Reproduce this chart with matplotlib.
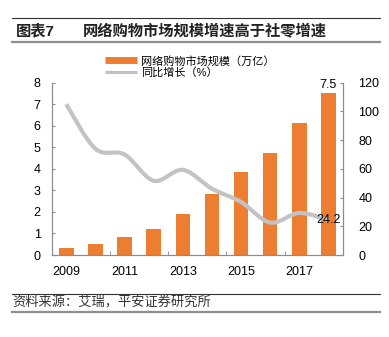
import matplotlib
matplotlib.use("Agg")
import matplotlib.pyplot as plt
from matplotlib.path import Path
from matplotlib.patches import PathPatch
from matplotlib.lines import Line2D
import numpy as np

plt.rcParams['font.family'] = ['Liberation Sans', 'Noto Sans CJK SC', 'DejaVu Sans']

# online shopping market size (trillion yuan) and yoy growth (%)
years = ['2009', '2010', '2011', '2012', '2013', '2014', '2015', '2016', '2017', '2018']
market_size = [0.31, 0.51, 0.82, 1.23, 1.92, 2.84, 3.84, 4.73, 6.14, 7.5]
growth = [105, 74, 70, 51.7, 59.3, 46.2, 36.9, 22.6, 29.3, 24.2]
year_labels = ['2009', '', '2011', '', '2013', '', '2015', '', '2017', '']

orange = '#ED7D31'
grey_line = '#C3C3C3'
spine_col = '#8C8C8C'

fig = plt.figure(figsize=(3.89, 3.37), dpi=100)
ax = fig.add_axes([51.7 / 389, 1 - 255 / 337, (343 - 51.7) / 389, (255 - 82.7) / 337])
ax2 = ax.twinx()

x = np.arange(len(years))
ax.bar(x, market_size, width=0.5, color=orange, zorder=2)
ax.set_xlim(-0.5, len(years) - 0.5)
ax.set_ylim(0, 8)
ax.set_yticks(range(0, 9))
ax2.set_ylim(0, 120)
ax2.set_yticks(range(0, 121, 20))

# x ticks between categories, labels every other year
ax.set_xticks(x)
ax.set_xticklabels(year_labels)
ax.tick_params(axis='x', length=0, pad=8, labelsize=9)
ax.set_xticks(np.arange(-0.5, len(years), 2.0), minor=True)
ax.tick_params(axis='x', which='minor', direction='in', length=3, color=spine_col)
ax.tick_params(axis='y', direction='in', length=2.5, color=spine_col, pad=8, labelsize=9)
ax2.tick_params(axis='y', direction='in', length=2.5, color=spine_col, pad=11, labelsize=9)

for a in (ax, ax2):
    a.spines['top'].set_visible(False)
    for s in ('left', 'right', 'bottom'):
        a.spines[s].set_color(spine_col)
        a.spines[s].set_linewidth(0.8)
ax2.set_zorder(ax.get_zorder() + 1)
ax2.patch.set_visible(False)

# smooth growth curve: Catmull-Rom segments as cubic Bezier
px = np.array(x, dtype=float)
py = np.array(growth, dtype=float)
verts = [(px[0], py[0])]
codes = [Path.MOVETO]
n = len(px)
for i in range(n - 1):
    p0 = (px[max(i - 1, 0)], py[max(i - 1, 0)])
    p1 = (px[i], py[i])
    p2 = (px[i + 1], py[i + 1])
    p3 = (px[min(i + 2, n - 1)], py[min(i + 2, n - 1)])
    c1 = (p1[0] + (p2[0] - p0[0]) / 6, p1[1] + (p2[1] - p0[1]) / 6)
    c2 = (p2[0] - (p3[0] - p1[0]) / 6, p2[1] - (p3[1] - p1[1]) / 6)
    verts += [c1, c2, p2]
    codes += [Path.CURVE4] * 3
ax2.add_patch(PathPatch(Path(verts, codes), facecolor='none', edgecolor=grey_line,
                        lw=3, capstyle='butt', zorder=3))

ax.text(x[-1], market_size[-1] + 0.12, f'{market_size[-1]:.1f}', ha='center', va='bottom', fontsize=9)
ax2.text(x[-1], growth[-1], f'{growth[-1]:.1f}', ha='center', va='center', fontsize=9, zorder=4)

handles = [Line2D([], [], color=orange, lw=5, solid_capstyle='butt'),
           Line2D([], [], color=grey_line, lw=2.3, solid_capstyle='butt')]
fig.legend(handles, ['网络购物市场规模（万亿）', '同比增长（%）'],
           loc='upper left', bbox_to_anchor=(105 / 389, 1 - 55.5 / 337), frameon=False,
           fontsize=8, handlelength=2.9, handletextpad=0.3, labelspacing=0.05,
           borderpad=0, borderaxespad=0)

# header and footer rules
def hrule(y, color, lw):
    fig.add_artist(Line2D([12 / 389, 380 / 389], [1 - y / 337] * 2, color=color, lw=lw,
                          transform=fig.transFigure))

hrule(18, '#333333', 0.8)
hrule(42, '#8F8F8F', 1.6)
hrule(294, '#333333', 0.8)
hrule(312, '#8F8F8F', 1.6)

fig.text(16 / 389, 1 - 31 / 337, '图表7', fontsize=11, fontweight='bold', va='center', color='#222222')
fig.text(83 / 389, 1 - 31 / 337, '网络购物市场规模增速高于社零增速', fontsize=11, fontweight='bold',
         va='center', color='#222222')
fig.text(12 / 389, 1 - 303 / 337, '资料来源：艾瑞，平安证券研究所', fontsize=9.5, style='italic',
         va='center', color='#333333')

fig.savefig('out.png', dpi=100)
